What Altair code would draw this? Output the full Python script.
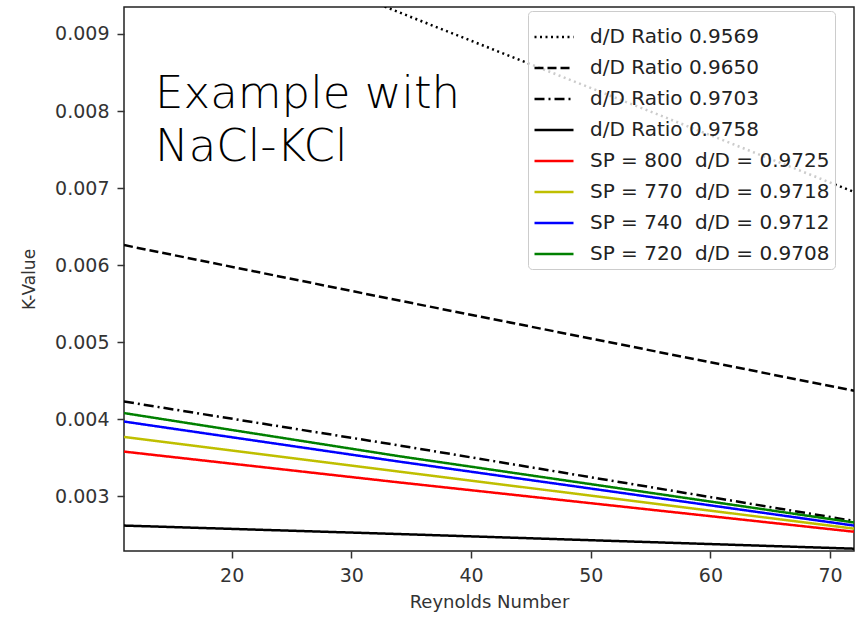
import altair as alt
import pandas as pd

# ---- data ----
reynolds = [11, 34, 72]
series_names = [
    "d/D Ratio 0.9569",
    "d/D Ratio 0.9650",
    "d/D Ratio 0.9703",
    "d/D Ratio 0.9758",
    "SP = 800\u00a0 d/D = 0.9725",
    "SP = 770\u00a0 d/D = 0.9718",
    "SP = 740\u00a0 d/D = 0.9712",
    "SP = 720\u00a0 d/D = 0.9708",
]
k_ratio_9569 = [0.0107, 0.00928, 0.00695]
k_ratio_9650 = [0.00626, 0.00554, 0.00437]
k_ratio_9703 = [0.00423, 0.00366, 0.00268]
k_ratio_9758 = [0.00262, 0.00251, 0.00232]
k_sp800 = [0.00358, 0.00318, 0.00254]
k_sp770 = [0.00377, 0.00332, 0.00258]
k_sp740 = [0.00397, 0.00345, 0.00262]
k_sp720 = [0.00408, 0.00352, 0.00266]

series_values = [k_ratio_9569, k_ratio_9650, k_ratio_9703, k_ratio_9758,
                 k_sp800, k_sp770, k_sp740, k_sp720]
series_colors = ["#000000", "#000000", "#000000", "#000000",
                 "#ff0000", "#bfbf00", "#0000ff", "#008000"]
series_dashes = [[2, 3.5], [9, 4], [10, 4, 2, 4], [1, 0],
                 [1, 0], [1, 0], [1, 0], [1, 0]]

x_ticks = [20, 30, 40, 50, 60, 70]
y_ticks = [0.003, 0.004, 0.005, 0.006, 0.007, 0.008, 0.009]
annotation_text = ["Example with", "NaCl-KCl"]

rows = []
for name, vals in zip(series_names, series_values):
    for order, (re_, k) in enumerate(zip(reynolds, vals)):
        rows.append({"series": name, "Re": re_, "K": k, "order": order})
df = pd.DataFrame(rows)

x_scale = alt.Scale(domain=[11, 72], nice=False, zero=False)
y_scale = alt.Scale(domain=[0.00229, 0.00935], nice=False, zero=False)

lines = alt.Chart(df).mark_line(strokeWidth=2.5, clip=True).encode(
    x=alt.X("Re:Q", scale=x_scale, title="Reynolds Number",
            axis=alt.Axis(values=x_ticks, format="d")),
    y=alt.Y("K:Q", scale=y_scale, title="K-Value",
            axis=alt.Axis(values=y_ticks, format=".3f")),
    color=alt.Color("series:N", sort=series_names,
                    scale=alt.Scale(domain=series_names, range=series_colors),
                    title=None),
    strokeDash=alt.StrokeDash("series:N", sort=series_names,
                              scale=alt.Scale(domain=series_names, range=series_dashes),
                              title=None),
    order="order:Q",
)

ann_df = pd.DataFrame({"Re": [13.6], "K": [0.00850], "label": ["\n".join(annotation_text)]})
annotation = alt.Chart(ann_df).mark_text(
    align="left", baseline="top", font="DejaVu Sans", fontSize=45, fontWeight=200,
    lineBreak="\n", lineHeight=53, color="#000000"
).encode(x=alt.X("Re:Q", scale=x_scale), y=alt.Y("K:Q", scale=y_scale), text="label:N")

chart = alt.layer(lines, annotation).properties(
    width=730, height=544,
    autosize=alt.AutoSizeParams(type="none"),
    padding={"left": 124, "top": 7, "right": 10, "bottom": 66},
).configure_view(
    stroke="#222222", strokeWidth=1.5
).configure_axis(
    labelFont="DejaVu Sans", labelFontSize=19, labelColor="#333333",
    titleFont="DejaVu Sans", titleFontWeight="normal", titleColor="#333333",
    tickColor="#333333", tickSize=7, tickWidth=1.5, domain=False, grid=False,
    labelPadding=8,
).configure_axisX(
    titleFontSize=18, titlePadding=8,
).configure_axisY(
    titleFontSize=17, titlePadding=16,
).configure_legend(
    orient="none", legendX=404, legendY=4,
    labelFont="DejaVu Sans", labelFontSize=20, labelColor="#222222", labelLimit=400,
    symbolType="stroke", symbolSize=1521, symbolStrokeWidth=2.5,
    fillColor="rgba(255,255,255,0.8)", strokeColor="#cccccc", cornerRadius=4,
    padding=5, rowPadding=0, labelOffset=15,
)

chart.save("out.html", embed_options={"renderer": "svg", "actions": False})
